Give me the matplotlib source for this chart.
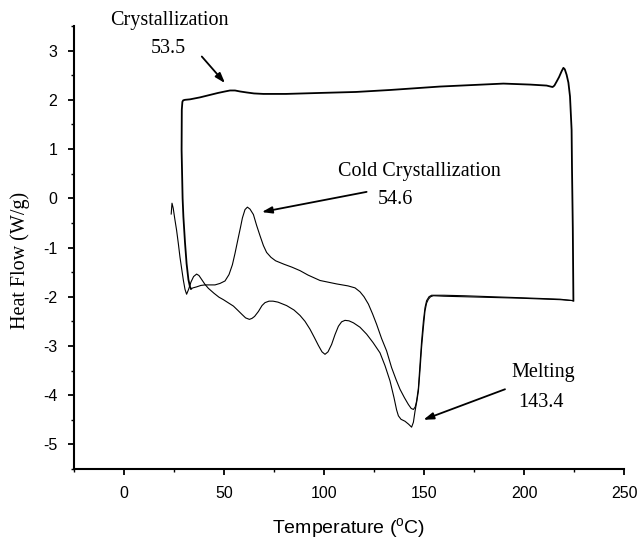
import matplotlib
matplotlib.use("Agg")
import matplotlib.pyplot as plt
from matplotlib.ticker import MultipleLocator

plt.rcParams["axes.unicode_minus"] = False
plt.rcParams["mathtext.fontset"] = "custom"
plt.rcParams["mathtext.rm"] = "Liberation Sans"

# First heating scan (starts at room temperature)
heat1_T = [23.6, 24.0, 24.6, 25.4, 26.3, 27.2, 28.0, 28.9, 29.7, 30.5, 31.3,
           32.3, 33.5, 34.8, 36.3, 37.5, 39.0, 40.5, 42.2, 45.0, 47.5, 49.7,
           52.0, 54.7, 57.0, 59.0, 60.8, 62.7, 64.0, 65.3, 67.2, 69.0, 70.5,
           72.5, 74.5, 77.0, 81.3, 85.0, 88.0, 90.5, 93.0, 95.2, 97.2, 99.0,
           100.5, 102.0, 103.8, 105.5, 107.2, 108.8, 110.5, 112.5, 114.7,
           118.0, 121.3, 124.5, 128.0, 130.5, 133.0, 135.0, 136.3, 137.2,
           138.5, 140.5, 142.3, 143.8, 144.7, 145.5, 146.3, 147.2, 148.0,
           148.8, 149.7, 150.5, 151.3, 152.2, 153.3, 154.7, 160.0, 169.7,
           198.0, 218.0, 224.7]
heat1_hf = [-0.32, -0.10, -0.20, -0.42, -0.65, -0.93, -1.20, -1.45, -1.67,
            -1.85, -1.95, -1.85, -1.70, -1.59, -1.54, -1.57, -1.66, -1.75,
            -1.83, -1.93, -2.01, -2.06, -2.12, -2.19, -2.28, -2.36, -2.43,
            -2.46, -2.44, -2.40, -2.30, -2.18, -2.12, -2.09, -2.09, -2.11,
            -2.18, -2.27, -2.38, -2.50, -2.66, -2.83, -2.99, -3.12, -3.17,
            -3.12, -2.97, -2.77, -2.60, -2.51, -2.48, -2.49, -2.53, -2.62,
            -2.76, -2.93, -3.14, -3.40, -3.71, -4.05, -4.30, -4.42, -4.49,
            -4.53, -4.59, -4.65, -4.55, -4.33, -4.15, -3.92, -3.50, -3.03,
            -2.62, -2.29, -2.13, -2.05, -2.00, -1.98, -1.99, -2.00, -2.03,
            -2.06, -2.08]

# Cooling scan from 225 C back to room temperature
cool_T = [224.7, 224.4, 224.0, 223.8, 223.0, 222.2, 221.3, 220.4, 219.7,
          218.8, 217.5, 216.3, 215.2, 214.3, 211.3, 203.0, 189.7, 158.0,
          133.0, 116.0, 98.0, 81.0, 69.7, 65.0, 61.3, 58.0, 55.5, 53.0,
          50.5, 47.0, 43.0, 38.0, 33.0, 30.5, 29.6, 29.2, 28.9, 28.8, 29.3,
          29.7, 30.5, 31.3, 32.2, 33.0, 33.5]
cool_hf = [-2.08, -0.60, 0.60, 1.39, 2.07, 2.35, 2.51, 2.62, 2.65, 2.58,
           2.46, 2.37, 2.29, 2.26, 2.29, 2.31, 2.33, 2.27, 2.20, 2.16, 2.14,
           2.12, 2.12, 2.13, 2.15, 2.17, 2.19, 2.19, 2.17, 2.14, 2.10, 2.05,
           2.01, 2.00, 1.99, 1.96, 1.80, 0.98, 0.00, -0.38, -0.90, -1.33,
           -1.65, -1.80, -1.84]

# Second heating scan with cold crystallization exotherm
heat2_T = [33.5, 34.5, 36.3, 38.5, 40.5, 43.0, 45.5, 48.0, 50.5, 52.5, 54.2,
           55.5, 57.2, 58.3, 59.2, 60.5, 61.7, 63.0, 64.7, 66.3, 68.0, 69.7,
           71.3, 73.5, 75.8, 80.0, 84.0, 88.0, 92.0, 98.0, 106.3, 112.0,
           115.5, 118.0, 120.0, 122.2, 124.3, 126.3, 128.8, 131.3, 133.8,
           136.0, 138.0, 140.2, 142.2, 143.6, 144.7, 145.6, 146.3, 147.2,
           148.0, 148.8, 149.7, 150.5, 151.3, 152.5, 153.8, 160.0, 170.0,
           198.0, 218.0, 224.7]
heat2_hf = [-1.84, -1.82, -1.80, -1.77, -1.76, -1.76, -1.76, -1.73, -1.68,
            -1.55, -1.35, -1.12, -0.79, -0.58, -0.40, -0.23, -0.18, -0.22,
            -0.33, -0.55, -0.76, -0.96, -1.10, -1.20, -1.27, -1.34, -1.40,
            -1.47, -1.56, -1.67, -1.74, -1.78, -1.82, -1.90, -2.00, -2.15,
            -2.35, -2.56, -2.85, -3.10, -3.44, -3.68, -3.88, -4.05, -4.19,
            -4.27, -4.29, -4.24, -4.12, -3.85, -3.37, -2.90, -2.49, -2.22,
            -2.08, -2.00, -1.97, -1.97, -1.98, -2.02, -2.05, -2.08]

fig = plt.figure(figsize=(6.4, 5.41), dpi=100)
ax = fig.add_axes([74 / 640, 1 - 469 / 541, 550 / 640, 443 / 541])

ax.plot(heat1_T, heat1_hf, color="black", lw=0.8)
ax.plot(heat2_T, heat2_hf, color="black", lw=0.8)
ax.plot(cool_T, cool_hf, color="black", lw=1.3)

ax.set_xlim(-25, 250)
ax.set_ylim(-5.5, 3.5)
ax.xaxis.set_major_locator(MultipleLocator(50))
ax.xaxis.set_minor_locator(MultipleLocator(25))
ax.yaxis.set_major_locator(MultipleLocator(1))
ax.yaxis.set_minor_locator(MultipleLocator(0.5))

for side in ("top", "right"):
    ax.spines[side].set_visible(False)
for side in ("left", "bottom"):
    ax.spines[side].set_linewidth(1.5)

ax.tick_params(which="major", direction="out", length=4, width=1.3, pad=8,
               labelsize=11.5)
ax.tick_params(which="minor", direction="out", length=2.5, width=1.0)
for lab in ax.get_xticklabels() + ax.get_yticklabels():
    lab.set_fontfamily("Liberation Sans")

ax.set_xlabel(r"Temperature ($^{\rm o}$C)", fontfamily="Liberation Sans",
              fontsize=14, labelpad=11)
ax.set_ylabel("Heat Flow (W/g)", fontfamily="Liberation Serif",
              fontsize=14.5)
ax.yaxis.set_label_coords(-0.08, 0.47)

serif = dict(fontfamily="Liberation Serif", fontsize=14.5, ha="center",
             va="center", clip_on=False)
arrow = dict(arrowstyle="-|>,head_length=0.6,head_width=0.2", color="black",
             lw=1.3, shrinkA=0, shrinkB=0)

ax.text(22.5, 3.61, "Crystallization", **serif)
ax.text(22.0, 3.04, "53.5", **serif)
ax.annotate("", xy=(50.5, 2.34), xytext=(38.9, 2.88), arrowprops=arrow)

ax.text(147.5, 0.55, "Cold Crystallization", **serif)
ax.text(135.5, -0.02, "54.6", **serif)
ax.annotate("", xy=(68.9, -0.28), xytext=(121.3, 0.13), arrowprops=arrow)

ax.text(209.5, -3.53, "Melting", **serif)
ax.text(208.5, -4.14, "143.4", **serif)
ax.annotate("", xy=(149.7, -4.50), xytext=(190.5, -3.88), arrowprops=arrow)

fig.savefig("out.png", dpi=100)
